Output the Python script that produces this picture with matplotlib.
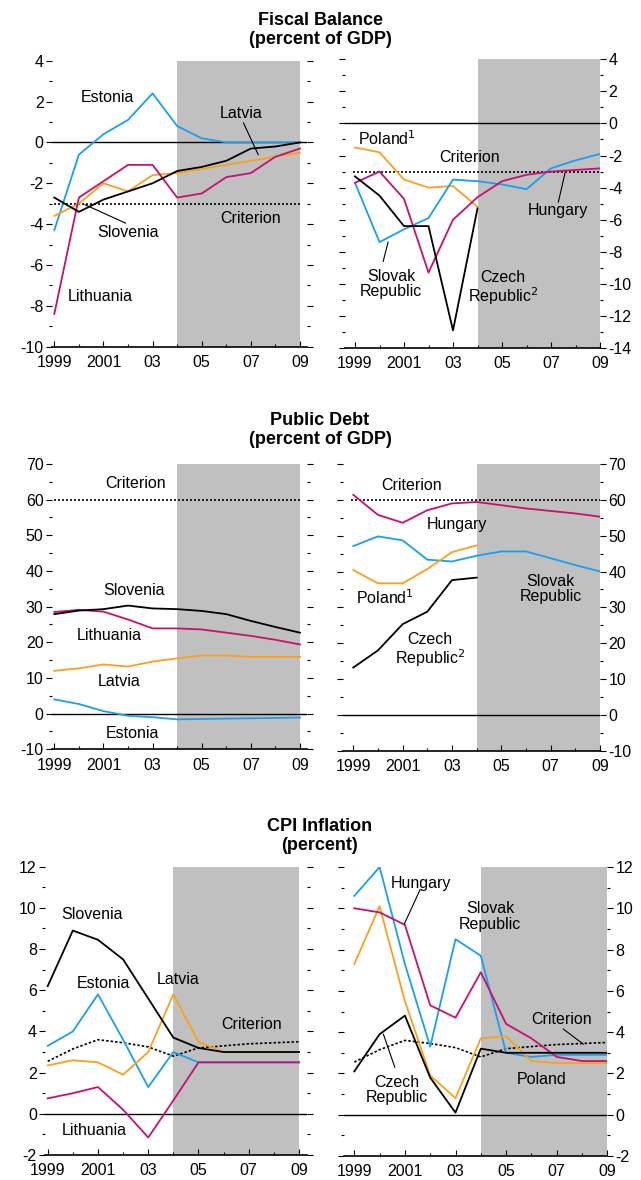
import matplotlib
matplotlib.use("Agg")
import matplotlib.pyplot as plt
from matplotlib.ticker import MultipleLocator, FixedLocator, FixedFormatter

plt.rcParams['font.family'] = ['Liberation Sans Narrow', 'Liberation Sans', 'DejaVu Sans']
plt.rcParams['axes.unicode_minus'] = False

# ---- data -------------------------------------------------------------
years = list(range(1999, 2010))
years_short = list(range(1999, 2005))

# Fiscal balance (percent of GDP)
fb_estonia = [-4.3, -0.6, 0.4, 1.1, 2.4, 0.8, 0.2, 0.0, 0.0, 0.0, 0.0]
fb_lithuania = [-8.4, -2.7, -1.9, -1.1, -1.1, -2.7, -2.5, -1.7, -1.5, -0.7, -0.3]
fb_latvia = [-3.6, -3.0, -2.0, -2.4, -1.6, -1.5, -1.3, -1.1, -0.9, -0.7, -0.5]
fb_slovenia = [-2.7, -3.4, -2.8, -2.4, -2.0, -1.4, -1.2, -0.9, -0.3, -0.2, 0.0]
fb_poland = [-1.5, -1.8, -3.5, -4.0, -3.9, -5.2]
fb_czech = [-3.3, -4.5, -6.4, -6.4, -12.9, -5.3]
fb_hungary = [-3.7, -3.0, -4.7, -9.3, -6.0, -4.6, -3.6, -3.2, -3.0, -2.9, -2.8]
fb_slovak = [-3.7, -7.4, -6.6, -5.9, -3.5, -3.6, -3.8, -4.1, -2.8, -2.3, -1.9]
fb_criterion = -3

# Public debt (percent of GDP)
pd_slovenia = [27.9, 28.9, 29.3, 30.3, 29.5, 29.3, 28.8, 27.9, 26.0, 24.3, 22.7]
pd_lithuania = [28.5, 29.1, 28.6, 26.4, 23.9, 23.9, 23.6, 22.7, 21.8, 20.7, 19.4]
pd_latvia = [12.0, 12.7, 13.8, 13.2, 14.6, 15.5, 16.3, 16.3, 15.9, 15.9, 15.9]
pd_estonia = [4.0, 2.7, 0.7, -0.6, -1.0, -1.6, -1.5, -1.4, -1.3, -1.2, -1.1]
pd_hungary = [61.4, 55.8, 53.6, 57.1, 59.0, 59.4, 58.5, 57.6, 56.9, 56.2, 55.3]
pd_slovak = [47.1, 49.8, 48.7, 43.3, 42.8, 44.4, 45.6, 45.6, 43.7, 41.8, 40.0]
pd_poland = [40.4, 36.7, 36.7, 40.7, 45.4, 47.3]
pd_czech = [13.2, 18.0, 25.3, 28.8, 37.6, 38.3]
pd_criterion = 60

# CPI inflation (percent)
cpi_slovenia = [6.2, 8.9, 8.45, 7.5, 5.6, 3.7, 3.2, 3.0, 3.0, 3.0, 3.0]
cpi_estonia = [3.3, 4.0, 5.8, 3.6, 1.3, 3.0, 2.5, 2.5, 2.5, 2.5, 2.5]
cpi_latvia = [2.35, 2.6, 2.5, 1.9, 3.0, 5.8, 3.5, 3.0, 3.0, 3.0, 3.0]
cpi_lithuania = [0.75, 1.0, 1.3, 0.2, -1.15, 0.65, 2.5, 2.5, 2.5, 2.5, 2.5]
cpi_slovak = [10.6, 12.0, 7.3, 3.3, 8.5, 7.7, 3.0, 2.8, 2.9, 2.9, 2.9]
cpi_hungary = [10.0, 9.8, 9.2, 5.3, 4.7, 6.9, 4.4, 3.7, 2.8, 2.6, 2.6]
cpi_poland = [7.3, 10.1, 5.5, 1.9, 0.8, 3.7, 3.8, 2.6, 2.5, 2.5, 2.5]
cpi_czech = [2.1, 3.9, 4.8, 1.8, 0.1, 3.2, 3.0, 3.0, 3.0, 3.0, 3.0]
cpi_criterion = [2.55, 3.15, 3.6, 3.45, 3.25, 2.8, 3.2, 3.3, 3.4, 3.45, 3.5]

label_years = [1999, 2001, 2003, 2005, 2007, 2009]
minor_years = [2000, 2002, 2004, 2006, 2008]
xtick_labels = ['1999', '2001', '03', '05', '07', '09']

BLUE = '#1a9ff0'
MAGENTA = '#c8106e'
ORANGE = '#fba01d'
BLACK = '#000000'
GRAY = '#c0c0c0'

W, H = 641, 1180
fig = plt.figure(figsize=(W / 100, H / 100), dpi=100)

FS = 11.5
LW = 1.3


def make_axes(x99, x09, xlim, ytop, ybot):
    """Place axes by the pixel position of 1999/2009 and of the ylim ends."""
    scale = (x09 - x99) / 10.0
    left = x99 - (1999 - xlim[0]) * scale
    width = (xlim[1] - xlim[0]) * scale
    ax = fig.add_axes([left / W, 1 - ybot / H, width / W, (ybot - ytop) / H])
    ax.set_xlim(*xlim)
    return ax


def style_axes(ax, ylim, major, minor, side):
    ax.axvspan(2004, 2009, color=GRAY, lw=0, zorder=0)
    ax.axhline(0, color='black', lw=1.0, zorder=1)
    for s in ['top', 'left', 'right']:
        ax.spines[s].set_visible(False)
    ax.spines['bottom'].set_linewidth(1.2)
    ax.xaxis.set_major_locator(FixedLocator(label_years))
    ax.xaxis.set_major_formatter(FixedFormatter(xtick_labels))
    ax.xaxis.set_minor_locator(FixedLocator(minor_years))
    ax.tick_params(axis='x', which='major', direction='in', length=4.5,
                   width=0.8, pad=6, labelsize=FS)
    ax.tick_params(axis='x', which='minor', direction='in', length=2.5,
                   width=0.8)
    ax.yaxis.set_major_locator(MultipleLocator(major))
    ax.yaxis.set_minor_locator(MultipleLocator(minor))
    ax.set_ylim(*ylim)
    ax.tick_params(axis='y', which='both', left=True, right=True,
                   labelleft=(side == 'left'), labelright=(side == 'right'),
                   direction='out', labelsize=FS, pad=2)
    ax.tick_params(axis='y', which='major', length=4, width=0.8)
    ax.tick_params(axis='y', which='minor', length=2.5, width=0.8)


def label(ax, x, y, s):
    ax.text(x, y, s, fontsize=FS, ha='center', va='center', linespacing=1.05,
            zorder=5)


def leader(ax, x0, y0, x1, y1):
    ax.plot([x0, x1], [y0, y1], color='black', lw=0.8, zorder=5)


# ---- Fiscal balance ----------------------------------------------------
ax = make_axes(54.3, 300, (1998.9, 2009.3), 60.7, 346.7)
style_axes(ax, (-10, 4), 2, 1, 'left')
ax.axhline(fb_criterion, xmin=0.01, xmax=0.97, color='black', lw=1.2,
           ls=(0, (1.2, 1.2)), zorder=2)
ax.plot(years, fb_estonia, color=BLUE, lw=LW, zorder=3)
ax.plot(years, fb_latvia, color=ORANGE, lw=LW, zorder=3)
ax.plot(years, fb_lithuania, color=MAGENTA, lw=LW, zorder=3)
ax.plot(years, fb_slovenia, color=BLACK, lw=LW, zorder=4)
label(ax, 2001.15, 2.2, 'Estonia')
label(ax, 2006.6, 1.4, 'Latvia')
leader(ax, 2006.7, 0.95, 2007.3, -0.6)
label(ax, 2002.0, -4.4, 'Slovenia')
leader(ax, 2000.25, -3.05, 2001.9, -3.95)
label(ax, 2007.0, -3.72, 'Criterion')
label(ax, 2000.86, -7.55, 'Lithuania')

ax = make_axes(355, 600, (1998.6, 2009.0), 59.3, 348)
style_axes(ax, (-14, 4), 2, 1, 'right')
ax.axhline(fb_criterion, xmin=0.03, xmax=1.0, color='black', lw=1.2,
           ls=(0, (1.2, 1.2)), zorder=2)
ax.plot(years_short, fb_poland, color=ORANGE, lw=LW, zorder=3)
ax.plot(years, fb_slovak, color=BLUE, lw=LW, zorder=3)
ax.plot(years, fb_hungary, color=MAGENTA, lw=LW, zorder=3)
ax.plot(years_short, fb_czech, color=BLACK, lw=LW, zorder=4)
label(ax, 2000.3, -0.95, 'Poland$^1$')
label(ax, 2003.67, -2.1, 'Criterion')
label(ax, 2007.3, -5.45, 'Hungary')
leader(ax, 2007.3, -4.9, 2007.57, -3.1)
label(ax, 2000.47, -10.0, 'Slovak\nRepublic')
leader(ax, 2000.15, -8.6, 2000.35, -7.4)
label(ax, 2005.03, -10.3, 'Czech\nRepublic$^2$')

# ---- Public debt -------------------------------------------------------
ax = make_axes(54.3, 300, (1998.9, 2009.3), 464, 749.3)
style_axes(ax, (-10, 70), 10, 5, 'left')
ax.axhline(pd_criterion, xmin=0.01, xmax=0.97, color='black', lw=1.2,
           ls=(0, (1.2, 1.2)), zorder=2)
ax.plot(years, pd_estonia, color=BLUE, lw=LW, zorder=3)
ax.plot(years, pd_latvia, color=ORANGE, lw=LW, zorder=3)
ax.plot(years, pd_lithuania, color=MAGENTA, lw=LW, zorder=3)
ax.plot(years, pd_slovenia, color=BLACK, lw=LW, zorder=4)
label(ax, 2002.3, 64.6, 'Criterion')
label(ax, 2002.26, 34.5, 'Slovenia')
label(ax, 2001.24, 21.9, 'Lithuania')
label(ax, 2001.65, 9.0, 'Latvia')
label(ax, 2002.2, -5.5, 'Estonia')

ax = make_axes(353.3, 600, (1998.6, 2009.0), 464, 750.7)
style_axes(ax, (-10, 70), 10, 5, 'right')
ax.axhline(pd_criterion, xmin=0.03, xmax=1.0, color='black', lw=1.2,
           ls=(0, (1.2, 1.2)), zorder=2)
ax.plot(years, pd_slovak, color=BLUE, lw=LW, zorder=3)
ax.plot(years_short, pd_poland, color=ORANGE, lw=LW, zorder=3)
ax.plot(years, pd_hungary, color=MAGENTA, lw=LW, zorder=3)
ax.plot(years_short, pd_czech, color=BLACK, lw=LW, zorder=4)
label(ax, 2001.36, 63.9, 'Criterion')
label(ax, 2003.2, 53.0, 'Hungary')
label(ax, 2000.28, 32.7, 'Poland$^1$')
label(ax, 2002.1, 17.9, 'Czech\nRepublic$^2$')
label(ax, 2007.0, 35.1, 'Slovak\nRepublic')

# ---- CPI inflation -----------------------------------------------------
ax = make_axes(47.7, 299, (1998.9, 2009.3), 866.7, 1155)
style_axes(ax, (-2, 12), 2, 1, 'left')
ax.plot(years, cpi_criterion, color='black', lw=1.2, ls=(0, (1.5, 1.2)),
        zorder=2)
ax.plot(years, cpi_estonia, color=BLUE, lw=LW, zorder=3)
ax.plot(years, cpi_latvia, color=ORANGE, lw=LW, zorder=3)
ax.plot(years, cpi_lithuania, color=MAGENTA, lw=LW, zorder=3)
ax.plot(years, cpi_slovenia, color=BLACK, lw=LW, zorder=4)
label(ax, 2000.75, 9.7, 'Slovenia')
label(ax, 2001.2, 6.35, 'Estonia')
label(ax, 2004.2, 6.5, 'Latvia')
label(ax, 2007.1, 4.35, 'Criterion')
label(ax, 2000.86, -0.83, 'Lithuania')

ax = make_axes(354.3, 607.3, (1998.6, 2009.0), 867, 1156)
style_axes(ax, (-2, 12), 2, 1, 'right')
ax.plot(years, cpi_criterion, color='black', lw=1.2, ls=(0, (1.5, 1.2)),
        zorder=2)
ax.plot(years, cpi_slovak, color=BLUE, lw=LW, zorder=3)
ax.plot(years, cpi_poland, color=ORANGE, lw=LW, zorder=3)
ax.plot(years, cpi_hungary, color=MAGENTA, lw=LW, zorder=3)
ax.plot(years, cpi_czech, color=BLACK, lw=LW, zorder=4)
label(ax, 2001.63, 11.2, 'Hungary')
leader(ax, 2001.6, 10.9, 2000.98, 9.25)
label(ax, 2004.36, 9.6, 'Slovak\nRepublic')
label(ax, 2007.2, 4.6, 'Criterion')
leader(ax, 2007.26, 4.15, 2008.05, 3.42)
label(ax, 2006.4, 1.7, 'Poland')
label(ax, 2000.67, 1.2, 'Czech\nRepublic')
leader(ax, 2000.15, 3.9, 2000.6, 2.3)

# ---- titles ------------------------------------------------------------
for ycen, title in [(30, 'Fiscal Balance\n(percent of GDP)'),
                    (430, 'Public Debt\n(percent of GDP)'),
                    (836, 'CPI Inflation\n(percent)')]:
    fig.text(320 / W, 1 - ycen / H, title, ha='center', va='center',
             fontsize=13, fontweight='bold', linespacing=1.2)

fig.savefig('out.png', dpi=100)
